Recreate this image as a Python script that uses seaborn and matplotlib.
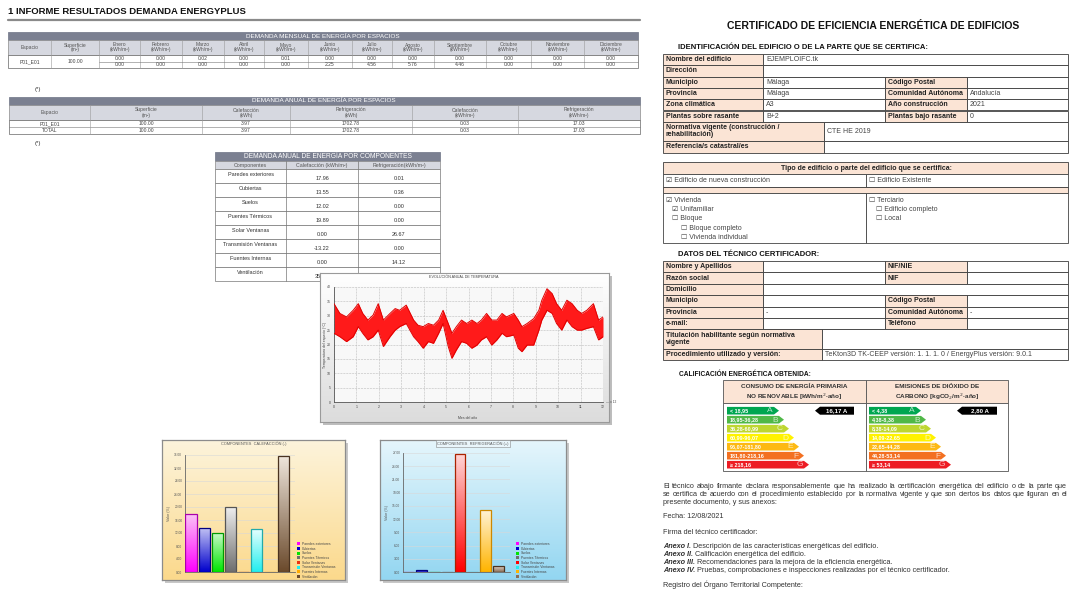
import numpy as np
import pandas as pd
import matplotlib.pyplot as plt
import seaborn as sns
from matplotlib.patches import Rectangle, Polygon, Patch
from matplotlib.colors import to_rgb

# ---------------- datos ----------------
meses = ["Enero", "Febrero", "Marzo", "Abril", "Mayo", "Junio", "Julio",
         "Agosto", "Septiembre", "Octubre", "Noviembre", "Diciembre"]
mensual_calef = [0.00, 0.00, 0.02, 0.00, 0.01, 0.00, 0.00, 0.00, 0.00, 0.00, 0.00, 0.00]
mensual_refri = [0.00, 0.00, 0.00, 0.00, 0.00, 2.25, 4.56, 5.76, 4.46, 0.00, 0.00, 0.00]

anual_espacios = ["P01_E01", "TOTAL"]
anual_superficie = [100.00, 100.00]
anual_calef_kwh = [3.97, 3.97]
anual_refri_kwh = [1702.78, 1702.78]
anual_calef_m2 = [0.03, 0.03]
anual_refri_m2 = [17.03, 17.03]

componentes = ["Paredes exteriores", "Cubiertas", "Suelos", "Puentes Térmicos",
               "Solar Ventanas", "Transmisión Ventanas", "Fuentes Internas", "Ventilación"]
comp_calef = [17.96, 13.55, 12.02, 19.89, 0.00, -13.22, 0.00, 35.71]
comp_refri = [0.01, 0.36, 0.00, 0.00, 26.67, 0.00, 14.12, 1.44]

# evolucion anual de temperatura (envolvente)
dias = [0, 8, 17, 26, 33, 39, 46, 53, 60, 67, 76, 83, 89, 98, 108, 114, 121, 128,
        135, 142, 148, 155, 160, 166, 173, 180, 187, 194, 200, 207, 214, 221, 228,
        234, 244, 250, 255, 262, 271, 278, 282, 289, 296, 302, 309, 316, 323, 330,
        336, 343, 352, 359, 365]
temp_max = [34.2, 30.8, 29.6, 31.9, 34.2, 30.8, 28.5, 30.2, 34.2, 28.5, 30.8, 32.5,
            31.9, 33.7, 28.5, 26.7, 26.2, 27.3, 26.7, 28.5, 31.9, 27.3, 23.9, 26.2,
            28.5, 27.3, 28.5, 27.3, 28.5, 30.8, 28.5, 28.5, 30.8, 29.6, 30.8, 28.5,
            26.2, 27.3, 29.0, 31.9, 35.4, 39.4, 37.7, 34.2, 31.9, 35.4, 34.2, 31.9,
            30.8, 31.9, 34.2, 28.5, 29.6]
temp_min = [23.9, 22.7, 21.0, 22.7, 26.2, 23.9, 21.6, 22.7, 25.0, 19.3, 22.7, 25.0,
            26.2, 27.3, 22.7, 21.0, 18.7, 21.0, 20.4, 23.9, 27.3, 19.3, 15.2, 18.1,
            21.0, 20.4, 18.7, 19.8, 21.6, 22.7, 19.8, 21.6, 23.9, 22.7, 23.3, 18.7,
            17.5, 19.8, 19.8, 25.0, 28.5, 31.9, 30.8, 27.3, 25.0, 28.5, 26.2, 25.0,
            25.0, 25.6, 26.2, 21.6, 22.7]

letras = ["A", "B", "C", "D", "E", "F", "G"]
cep_rangos = ["< 18,95", "18,95-36,28", "36,28-60,99", "60,99-96,07",
              "96,07-181,80", "181,80-218,16", "≥ 218,16"]
co2_rangos = ["< 4,38", "4,38-8,38", "8,38-14,09", "14,09-22,65",
              "22,65-44,28", "44,28-53,14", "≥ 53,14"]
cep_valor = "16,17 A"
co2_valor = "2,80 A"

# ---------------- figura ----------------
sns.set_theme(style="white")
plt.rcParams["font.family"] = ["Liberation Sans", "DejaVu Sans"]
W, H = 1072, 590
fig = plt.figure(figsize=(W / 100, H / 100), dpi=100)
fig.patch.set_facecolor("white")

ax = fig.add_axes([0, 0, 1, 1], zorder=0)
ax.set_xlim(0, W)
ax.set_ylim(H, 0)
ax.axis("off")
renderer = fig.canvas.get_renderer()

PEACH = "#fbe4d5"
DARK = "#7b8091"
LIGHT = "#d6d8e0"


def rect(x0, y0, x1, y1, fc="none", ec="#444444", lw=0.6, z=1):
    ax.add_patch(Rectangle((x0, y0), x1 - x0, y1 - y0, facecolor=fc,
                           edgecolor=ec, linewidth=lw, zorder=z))


def txt(x, y, s, size=4.5, weight="normal", ha="left", va="center",
        color="#222222", style="normal", z=3, ls=1.0, alpha=1.0):
    return ax.text(x, y, s, fontsize=size, fontweight=weight, ha=ha, va=va,
                   color=color, fontstyle=style, zorder=z, linespacing=ls, alpha=alpha)


def px_rect(x0, y0, x1, y1):
    return [x0 / W, 1 - y1 / H, (x1 - x0) / W, (y1 - y0) / H]


def gradiente(c_top, c_bot, n=64):
    t = np.linspace(0, 1, n)[:, None]
    a, b = np.array(to_rgb(c_top)), np.array(to_rgb(c_bot))
    return (a * (1 - t) + b * t)[:, None, :]


def justificar(x0, x1, y, linea, size, color="#333333"):
    palabras = linea.split()
    arts = [txt(0, y, p, size, color=color) for p in palabras]
    anchos = [a.get_window_extent(renderer).width for a in arts]
    hueco = (x1 - x0 - sum(anchos)) / max(len(palabras) - 1, 1)
    x = x0
    for a, w in zip(arts, anchos):
        a.set_x(x)
        x += w + hueco


def rico(x, y, partes, size):
    for s, w, st in partes:
        t = txt(x, y, s, size, weight=w, style=st, color="#333333")
        x += t.get_window_extent(renderer).width + 2


# ============ IZQUIERDA: informe EnergyPlus ============
txt(8, 12, "1 INFORME RESULTADOS DEMANDA ENERGYPLUS", 6.8, weight="bold", color="#111111")
ax.plot([8, 640], [20, 20], color="#8a8a8a", lw=1.6, zorder=2)

TF = 3.6  # texto de tablas

# tabla mensual
cx = [8, 51, 99, 140, 182, 224, 264, 308, 352, 392, 434, 486, 531, 584, 638]
rect(8, 32, 638, 40, fc=DARK, ec=DARK)
txt(323, 36, "DEMANDA MENSUAL DE ENERGÍA POR ESPACIOS", 4.6, color="white", ha="center")
rect(8, 40, 638, 55, fc=LIGHT, ec="#8a8a8a", lw=0.5)
rect(8, 55, 638, 68, fc="white", ec="#666666", lw=0.5)
cab_mensual = ["Espacio", "Superficie\n(m²)"] + [m + "\n(kWh/m²)" for m in meses]
for i, h in enumerate(cab_mensual):
    xa, xb = cx[i], cx[i + 1]
    if i < len(cab_mensual) - 1:
        ax.plot([xb, xb], [40, 68], color="#9a9a9a", lw=0.4, zorder=2)
    txt((xa + xb) / 2, 47.5, h, TF, ha="center", color="#555555")
ax.plot([cx[2], 638], [61.5, 61.5], color="#777777", lw=0.4, zorder=2)
txt((cx[0] + cx[1]) / 2, 61.7, "P01_E01", TF, ha="center", color="#444444")
txt((cx[1] + cx[2]) / 2, 61.7, "100.00", TF, ha="center", color="#444444")
for i in range(12):
    xm = (cx[i + 2] + cx[i + 3]) / 2
    txt(xm, 58.3, f"{mensual_calef[i]:.2f}", TF, ha="center", color="#444444")
    txt(xm, 64.8, f"{mensual_refri[i]:.2f}", TF, ha="center", color="#444444")
txt(35, 89, "(*)", 4.4, color="#333333")

# tabla anual por espacios
ax_c = [9, 90, 202, 290, 412, 518, 640]
rect(9, 97, 640, 105, fc=DARK, ec=DARK)
txt(324, 101, "DEMANDA ANUAL DE ENERGÍA POR ESPACIOS", 4.6, color="white", ha="center")
rect(9, 105, 640, 120, fc=LIGHT, ec="#8a8a8a", lw=0.5)
rect(9, 120, 640, 134, fc="white", ec="#666666", lw=0.5)
ax.plot([9, 640], [127, 127], color="#777777", lw=0.4, zorder=2)
cab_anual = ["Espacio", "Superficie\n(m²)", "Calefacción\n(kWh)", "Refrigeración\n(kWh)",
             "Calefacción\n(kWh/m²)", "Refrigeración\n(kWh/m²)"]
for i, h in enumerate(cab_anual):
    xa, xb = ax_c[i], ax_c[i + 1]
    if i < len(cab_anual) - 1:
        ax.plot([xb, xb], [105, 134], color="#9a9a9a", lw=0.4, zorder=2)
    txt((xa + xb) / 2, 112.5, h, TF, ha="center", color="#555555")
for r in range(2):
    yy = 123.7 + 7 * r
    fila = [anual_espacios[r], f"{anual_superficie[r]:.2f}", f"{anual_calef_kwh[r]:.2f}",
            f"{anual_refri_kwh[r]:.2f}", f"{anual_calef_m2[r]:.2f}", f"{anual_refri_m2[r]:.2f}"]
    for i, v in enumerate(fila):
        txt((ax_c[i] + ax_c[i + 1]) / 2, yy, v, TF, ha="center", color="#444444")
txt(35, 144, "(*)", 4.4, color="#333333")

# tabla por componentes
kc = [215, 286, 358, 440]
rect(215, 152, 440, 161, fc=DARK, ec=DARK)
txt(327.5, 156.5, "DEMANDA ANUAL DE ENERGÍA POR COMPONENTES", 4.8, color="white", ha="center")
rect(215, 161, 440, 169, fc=LIGHT, ec="#8a8a8a", lw=0.5)
for i, h in enumerate(["Componentes", "Calefacción (kWh/m²)", "Refrigeración(kWh/m²)"]):
    txt((kc[i] + kc[i + 1]) / 2, 165, h, 3.8, ha="center", color="#555555")
for r, comp in enumerate(componentes):
    y0 = 169 + 14 * r
    rect(215, y0, 440, y0 + 14, fc="white", ec="#777777", lw=0.5)
    txt((kc[0] + kc[1]) / 2, y0 + 5, comp, 4.0, ha="center", color="#333333")
    txt((kc[1] + kc[2]) / 2, y0 + 9, f"{comp_calef[r]:.2f}", 4.0, ha="center", color="#333333")
    txt((kc[2] + kc[3]) / 2, y0 + 9, f"{comp_refri[r]:.2f}", 4.0, ha="center", color="#333333")
for xv in kc[1:3]:
    ax.plot([xv, xv], [161, 281], color="#777777", lw=0.5, zorder=2)

# ---- grafica de temperatura ----
rect(323, 276, 612, 425, fc="#bdbdbd", ec="none", z=0)
fr = fig.add_axes(px_rect(320, 273, 609, 422), zorder=1)
fr.imshow(gradiente("#ffffff", "#dcdcdc"), aspect="auto", extent=(0, 1, 0, 1), origin="upper")
fr.set_xlim(0, 1); fr.set_ylim(0, 1)
fr.set_xticks([]); fr.set_yticks([])
for s in fr.spines.values():
    s.set_color("#9a9a9a"); s.set_linewidth(0.8)

at = fig.add_axes(px_rect(334, 287, 603, 402), zorder=2)
at.set_facecolor("#f8f8f8")
df_t = pd.DataFrame({"dia": dias + dias, "temp": temp_max + temp_min,
                     "serie": ["max"] * len(dias) + ["min"] * len(dias)})
at.fill_between(dias, temp_min, temp_max, color="#ff1a1a", lw=0, zorder=2)
sns.lineplot(data=df_t, x="dia", y="temp", units="serie", estimator=None,
             color="#e00000", lw=0.7, ax=at, zorder=3)
at.set_xlim(0, 365); at.set_ylim(0, 40)
at.set_xticks(np.linspace(0, 365, 13))
at.set_xticklabels([str(i) for i in range(13)])
at.set_yticks(np.arange(0, 41, 5))
at.tick_params(labelsize=2.5, length=1.5, width=0.4, pad=1, colors="#444444")
at.grid(True, color="#bbbbbb", lw=0.4, ls="--")
at.set_xlabel(""); at.set_ylabel("")
for k in ["top", "right"]:
    at.spines[k].set_visible(False)
for k in ["left", "bottom"]:
    at.spines[k].set_color("#555555"); at.spines[k].set_linewidth(0.6)
fig.text(464 / W, 1 - 276.5 / H, "EVOLUCIÓN ANUAL DE TEMPERATURA", fontsize=2.7,
         ha="center", va="center", color="#444444")
fig.text(325 / W, 1 - 345 / H, "Temperatura del espacio (°C)", fontsize=2.5,
         ha="center", va="center", rotation=90, color="#444444")
fig.text(468 / W, 1 - 418 / H, "Mes del año", fontsize=2.5, ha="center", va="center",
         color="#444444")
fig.text(606 / W, 1 - 402 / H, "— x 12", fontsize=2.3, ha="left", va="center", color="#444444")

# ---- graficas de barras por componentes ----
col_top = ["#fbc6f5", "#c4c4f4", "#ccfacc", "#eeeeee", "#ffc0a8", "#e4ffff", "#fff1c0", "#efe6dc"]
col_bot = ["#ff00ff", "#0000cc", "#00e600", "#6e6e6e", "#ee3311", "#22eeee", "#ffaa00", "#6b4a2c"]
col_borde = ["#aa00aa", "#000080", "#009900", "#555555", "#aa2200", "#22aaaa", "#cc8800", "#4a3320"]
col_top_r = ["#fbc6f5", "#c4c4f4", "#ccfacc", "#eeeeee", "#ffd4d4", "#e4ffff", "#fff4d8", "#efe6dc"]
col_bot_r = ["#ff00ff", "#0000cc", "#00e600", "#6e6e6e", "#ff0000", "#22eeee", "#ffb400", "#8a6e58"]


def grafica_barras(frame_px, plot_px, c_top, c_bot, valores, tops, bots, ymax, paso,
                   titulo, leyenda_px, caja_titulo):
    x0, y0, x1, y1 = frame_px
    rect(x0 + 3, y0 + 3, x1 + 3, y1 + 3, fc="#c8c8c8", ec="none", z=0)
    fa = fig.add_axes(px_rect(*frame_px), zorder=1)
    fa.imshow(gradiente(c_top, c_bot), aspect="auto", extent=(0, 1, 0, 1), origin="upper")
    fa.set_xlim(0, 1); fa.set_ylim(0, 1)
    fa.set_xticks([]); fa.set_yticks([])
    for s in fa.spines.values():
        s.set_color("#8c8c8c"); s.set_linewidth(0.9)

    ab = fig.add_axes(px_rect(*plot_px), zorder=2)
    ab.set_facecolor("none")
    sns.barplot(x=componentes, y=valores, hue=componentes, palette=bots, legend=False,
                ax=ab, width=0.85, saturation=1)
    for p in list(ab.patches):
        i = int(round(p.get_x() + p.get_width() / 2))
        bx, bw, bh = p.get_x(), p.get_width(), p.get_height()
        if bh > 0:
            im = ab.imshow(gradiente(tops[i], bots[i]), aspect="auto",
                           extent=(bx, bx + bw, 0, bh), origin="upper", zorder=2)
            im.set_clip_path(p)
        p.set_facecolor("none")
        p.set_edgecolor(col_borde[i])
        p.set_linewidth(0.9)
        p.set_zorder(3)
    ab.set_xlim(-0.45, 7.9)
    ab.set_ylim(0, ymax)
    yt = np.arange(0, ymax + 0.01, paso)
    ab.set_yticks(yt)
    ab.set_yticklabels([f"{v:.2f}" for v in yt])
    ab.set_xticks([])
    ab.set_xlabel("")
    ab.set_ylabel("Valor (%)", fontsize=2.6, labelpad=2, color="#555555")
    ab.tick_params(labelsize=2.3, length=1, width=0.4, pad=1, colors="#555555")
    ab.grid(axis="y", color="#d8d8d8", lw=0.4)
    ab.set_axisbelow(True)
    for k in ["top", "right"]:
        ab.spines[k].set_visible(False)
    for k in ["left", "bottom"]:
        ab.spines[k].set_color("#666666"); ab.spines[k].set_linewidth(0.6)

    tx = (x0 + x1) / 2
    t = fig.text(tx / W, 1 - (y0 + 3.5) / H, titulo, fontsize=2.8, ha="center",
                 va="center", color="#555555")
    if caja_titulo:
        t.set_bbox(dict(facecolor="#eaf6fb", edgecolor="#888888", lw=0.4, pad=0.6))
    handles = [Patch(facecolor=c, edgecolor="none") for c in bots]
    fig.legend(handles, componentes, loc="upper left",
               bbox_to_anchor=(leyenda_px[0] / W, 1 - leyenda_px[1] / H), fontsize=2.4,
               frameon=False, handlelength=0.9, handleheight=0.9, labelspacing=0.2,
               handletextpad=0.5, borderpad=0, borderaxespad=0, labelcolor="#444444")


grafica_barras((162, 440, 345, 580), (185, 455, 295, 572), "#fdf4dc", "#fbd98c",
               list(np.abs(comp_calef)), col_top, col_bot, 36, 4,
               "COMPONENTES  CALEFACCIÓN (-)", (297, 542), False)
grafica_barras((380, 440, 566, 580), (403, 453, 510, 572), "#e6f6fc", "#93d6f1",
               comp_refri, col_top_r, col_bot_r, 27, 3,
               "COMPONENTES  REFRIGERACIÓN (+)", (516, 542), True)

# ============ DERECHA: certificado ============
txt(873, 26, "CERTIFICADO DE EFICIENCIA ENERGÉTICA DE EDIFICIOS", 7.5, weight="bold",
    ha="center", color="#111111")
txt(678, 47, "IDENTIFICACIÓN DEL EDIFICIO O DE LA PARTE QUE SE CERTIFICA:", 5.5,
    weight="bold", color="#111111")

FS = 5.0


def celda(x0, x1, y0, y1, s="", etiqueta=False, size=FS):
    rect(x0, y0, x1, y1, fc=PEACH if etiqueta else "white", ec="#3c3c3c", lw=0.6)
    if s:
        txt(x0 + 3, (y0 + y1) / 2, s, size, weight="bold" if etiqueta else "normal",
            color="#222222" if etiqueta else "#444444")


ident = [("Nombre del edificio", "EJEMPLOIFC.tk", None, None),
         ("Dirección", "", None, None),
         ("Municipio", "Málaga", "Código Postal", ""),
         ("Provincia", "Málaga", "Comunidad Autónoma", "Andalucía"),
         ("Zona climática", "A3", "Año construcción", "2021"),
         ("Plantas sobre rasante", "B+2", "Plantas bajo rasante", "0")]
y = 54.0
for a, b, c, d in ident:
    celda(663, 763, y, y + 11.3, a, True)
    if c is None:
        celda(763, 1068, y, y + 11.3, b)
    else:
        celda(763, 885, y, y + 11.3, b)
        celda(885, 967, y, y + 11.3, c, True)
        celda(967, 1068, y, y + 11.3, d)
    y += 11.3
celda(663, 824, y, 141, "Normativa vigente (construcción /\nrehabilitación)", True)
celda(824, 1068, y, 141, "CTE HE 2019")
celda(663, 824, 141, 152.5, "Referencia/s catastral/es", True)
celda(824, 1068, 141, 152.5, "")

# tipo de edificio
rect(663, 162, 1068, 174, fc=PEACH, ec="#3c3c3c")
txt(866, 168, "Tipo de edificio o parte del edificio que se certifica:", FS, weight="bold",
    ha="center")
rect(663, 174, 866, 187, fc="white")
rect(866, 174, 1068, 187, fc="white")
txt(666, 180.5, "☑ Edificio de nueva construcción", FS, color="#444444")
txt(869, 180.5, "☐ Edificio Existente", FS, color="#444444")
rect(663, 187, 1068, 193, fc=PEACH, ec="#3c3c3c")
rect(663, 193, 866, 243, fc="white")
rect(866, 193, 1068, 243, fc="white")
for xx, yy, s in [(666, 200, "☑ Vivienda"), (672, 209, "☑ Unifamiliar"),
                  (672, 218, "☐ Bloque"), (681, 228, "☐ Bloque completo"),
                  (681, 237, "☐ Vivienda individual"), (869, 200, "☐ Terciario"),
                  (876, 209, "☐ Edificio completo"), (876, 218, "☐ Local")]:
    txt(xx, yy, s, FS, color="#444444")

# datos del tecnico
txt(678, 254, "DATOS DEL TÉCNICO CERTIFICADOR:", 5.5, weight="bold", color="#111111")
tecnico = [("Nombre y Apellidos", "", "NIF/NIE", ""),
           ("Razón social", "", "NIF", ""),
           ("Domicilio", "", None, None),
           ("Municipio", "", "Código Postal", ""),
           ("Provincia", "-", "Comunidad Autónoma", "-"),
           ("e-mail:", "", "Teléfono", "")]
y = 261.0
for a, b, c, d in tecnico:
    celda(663, 763, y, y + 11.4, a, True)
    if c is None:
        celda(763, 1068, y, y + 11.4, b)
    else:
        celda(763, 885, y, y + 11.4, b)
        celda(885, 967, y, y + 11.4, c, True)
        celda(967, 1068, y, y + 11.4, d)
    y += 11.4
celda(663, 822, y, 348.5, "Titulación habilitante según normativa\nvigente", True)
celda(822, 1068, y, 348.5, "")
celda(663, 822, 348.5, 360, "Procedimiento utilizado y versión:", True)
celda(822, 1068, 348.5, 360,
      "TeKton3D TK-CEEP versión: 1. 1. 1. 0 / EnergyPlus versión: 9.0.1")

# calificacion energetica
txt(679, 374, "CALIFICACIÓN ENERGÉTICA OBTENIDA:", 4.8, weight="bold", color="#111111")
rect(723, 380, 866, 403, fc=PEACH, ec="#555555")
rect(866, 380, 1008, 403, fc=PEACH, ec="#555555")
rect(723, 403, 866, 471, fc="white", ec="#555555")
rect(866, 403, 1008, 471, fc="white", ec="#555555")
txt(794.5, 386, "CONSUMO DE ENERGÍA PRIMARIA", 4.6, weight="bold", ha="center", color="#333333")
txt(794.5, 396.5, "NO RENOVABLE [kWh/m$^2$·año]", 4.6, weight="bold", ha="center", color="#333333")
txt(937, 386, "EMISIONES DE DIÓXIDO DE", 4.6, weight="bold", ha="center", color="#333333")
txt(937, 396.5, "CARBONO [kgCO$_2$/m$^2$·año]", 4.6, weight="bold", ha="center", color="#333333")

band_cols = ["#00a651", "#50b848", "#bed630", "#fff200", "#fdb913", "#f37021", "#ed1c24"]


def escala(x0, rangos):
    for i, (rg, le) in enumerate(zip(rangos, letras)):
        yc = 410.7 + 9.0 * i
        L = 47 + 5 * i
        h = 7.6
        ax.add_patch(Polygon([(x0, yc - h / 2), (x0 + L, yc - h / 2), (x0 + L + 5, yc),
                              (x0 + L, yc + h / 2), (x0, yc + h / 2)],
                             closed=True, facecolor=band_cols[i], edgecolor="none", zorder=2))
        txt(x0 + 3, yc, rg, 3.9, weight="bold", color="white")
        txt(x0 + L - 1, yc + 0.3, le, 6.0, ha="right", color="white", alpha=0.7)


def etiqueta_valor(x0, x1, s):
    yc = 410.7
    ax.add_patch(Polygon([(x0, yc), (x0 + 5, yc - 4), (x1, yc - 4), (x1, yc + 4), (x0 + 5, yc + 4)],
                         closed=True, facecolor="black", edgecolor="none", zorder=2))
    txt((x0 + 5 + x1) / 2, yc, s, 4.4, weight="bold", ha="center", color="white")


escala(727, cep_rangos)
escala(869, co2_rangos)
etiqueta_valor(815, 854, cep_valor)
etiqueta_valor(957, 997, co2_valor)

# texto final
TX = 5.2
parrafo = ["El técnico abajo firmante declara responsablemente que ha realizado la certificación energética del edificio o de la parte que",
           "se certifica de acuerdo con el procedimiento establecido por la normativa vigente y que son ciertos los datos que figuran en el"]
justificar(663, 1067, 486, parrafo[0], TX)
justificar(663, 1067, 494.5, parrafo[1], TX)
txt(663, 503, "presente documento, y sus anexos:", TX, color="#333333")
txt(663, 517, "Fecha: 12/08/2021", TX, color="#333333")
txt(663, 532, "Firma del técnico certificador:", TX, color="#333333")
anexos = [("Anexo I.", "Descripción de las características energéticas del edificio."),
          ("Anexo II.", "Calificación energética del edificio."),
          ("Anexo III.", "Recomendaciones para la mejora de la eficiencia energética."),
          ("Anexo IV.", "Pruebas, comprobaciones e inspecciones realizadas por el técnico certificador.")]
for k, (a, b) in enumerate(anexos):
    rico(663, 547 + 8 * k, [(a, "bold", "italic"), (b, "normal", "normal")], TX)
txt(663, 585, "Registro del Órgano Territorial Competente:", TX, color="#333333")

fig.savefig("out.png", dpi=100)
